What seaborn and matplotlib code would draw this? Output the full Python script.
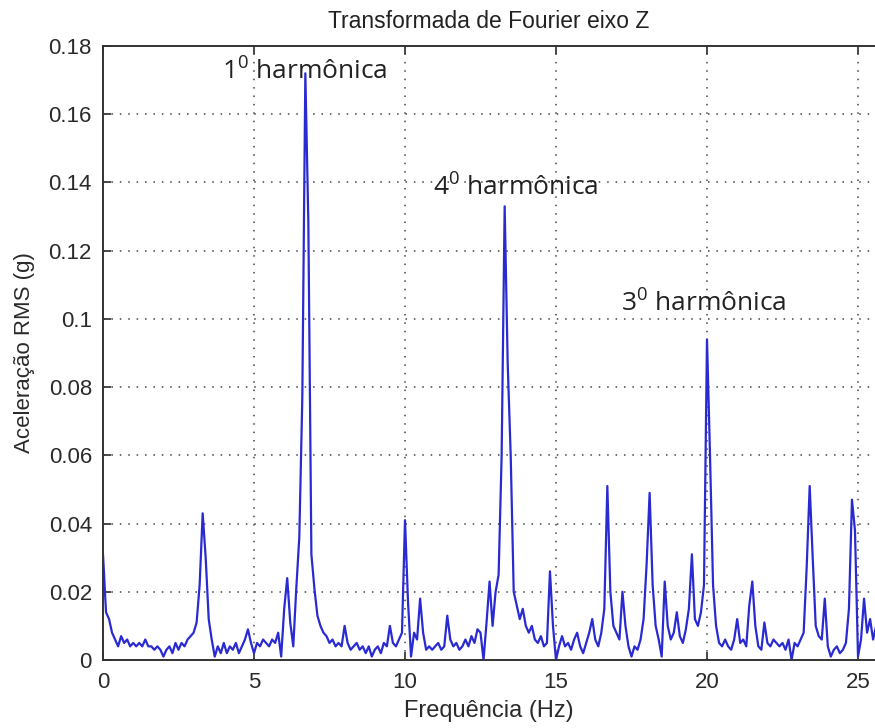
import numpy as np
import pandas as pd
import matplotlib
matplotlib.use("Agg")
import matplotlib.pyplot as plt
import seaborn as sns

# ---- data ----
freq_step = 0.1
amplitude = [
    0.031, 0.014, 0.012, 0.008, 0.006, 0.004, 0.007, 0.005, 0.006, 0.004,   # 0.0 - 0.9
    0.005, 0.004, 0.005, 0.004, 0.006, 0.004, 0.004, 0.003, 0.004, 0.003,   # 1.0 - 1.9
    0.001, 0.003, 0.004, 0.002, 0.005, 0.003, 0.005, 0.004, 0.006, 0.007,   # 2.0 - 2.9
    0.008, 0.011, 0.022, 0.043, 0.030, 0.012, 0.006, 0.001, 0.004, 0.002,   # 3.0 - 3.9
    0.005, 0.002, 0.004, 0.003, 0.005, 0.002, 0.004, 0.006, 0.009, 0.005,   # 4.0 - 4.9
    0.002, 0.005, 0.004, 0.006, 0.005, 0.004, 0.006, 0.005, 0.008, 0.001,   # 5.0 - 5.9
    0.015, 0.024, 0.011, 0.004, 0.021, 0.036, 0.077, 0.172, 0.128, 0.031,   # 6.0 - 6.9
    0.021, 0.013, 0.010, 0.008, 0.007, 0.005, 0.006, 0.004, 0.005, 0.004,   # 7.0 - 7.9
    0.010, 0.005, 0.003, 0.004, 0.005, 0.003, 0.004, 0.002, 0.004, 0.001,   # 8.0 - 8.9
    0.003, 0.004, 0.002, 0.005, 0.004, 0.010, 0.005, 0.004, 0.006, 0.008,   # 9.0 - 9.9
    0.041, 0.017, 0.001, 0.008, 0.006, 0.018, 0.008, 0.003, 0.004, 0.003,   # 10.0 - 10.9
    0.004, 0.005, 0.003, 0.004, 0.013, 0.006, 0.004, 0.005, 0.003, 0.004,   # 11.0 - 11.9
    0.006, 0.004, 0.007, 0.005, 0.009, 0.008, 0.000, 0.011, 0.023, 0.010,   # 12.0 - 12.9
    0.020, 0.025, 0.060, 0.133, 0.087, 0.060, 0.020, 0.016, 0.012, 0.015,   # 13.0 - 13.9
    0.010, 0.008, 0.010, 0.006, 0.005, 0.007, 0.004, 0.005, 0.026, 0.010,   # 14.0 - 14.9
    0.000, 0.004, 0.007, 0.004, 0.005, 0.003, 0.006, 0.008, 0.004, 0.002,   # 15.0 - 15.9
    0.005, 0.008, 0.012, 0.006, 0.004, 0.008, 0.015, 0.051, 0.020, 0.010,   # 16.0 - 16.9
    0.008, 0.006, 0.020, 0.010, 0.004, 0.001, 0.004, 0.003, 0.006, 0.012,   # 17.0 - 17.9
    0.028, 0.049, 0.022, 0.010, 0.006, 0.001, 0.023, 0.010, 0.006, 0.008,   # 18.0 - 18.9
    0.014, 0.007, 0.005, 0.009, 0.015, 0.031, 0.012, 0.010, 0.014, 0.022,   # 19.0 - 19.9
    0.094, 0.060, 0.022, 0.010, 0.005, 0.004, 0.006, 0.004, 0.003, 0.006,   # 20.0 - 20.9
    0.012, 0.005, 0.006, 0.004, 0.016, 0.023, 0.010, 0.004, 0.003, 0.011,   # 21.0 - 21.9
    0.005, 0.004, 0.006, 0.005, 0.004, 0.005, 0.003, 0.006, 0.000, 0.005,   # 22.0 - 22.9
    0.004, 0.006, 0.008, 0.027, 0.051, 0.030, 0.010, 0.007, 0.006, 0.018,   # 23.0 - 23.9
    0.004, 0.001, 0.003, 0.004, 0.002, 0.003, 0.005, 0.015, 0.047, 0.038,   # 24.0 - 24.9
    0.001, 0.006, 0.018, 0.008, 0.012, 0.006, 0.010,                       # 25.0 - 25.6
]
freq = np.round(np.arange(len(amplitude)) * freq_step, 2)

x_ticks = [0, 5, 10, 15, 20, 25]
x_tick_labels = ["0", "5", "10", "15", "20", "25"]
y_ticks = [0, 0.02, 0.04, 0.06, 0.08, 0.1, 0.12, 0.14, 0.16, 0.18]
y_tick_labels = ["0", "0.02", "0.04", "0.06", "0.08", "0.1", "0.12", "0.14", "0.16", "0.18"]

annotations = [
    ("1$^{0}$ harmônica", 3.94, 0.1725),
    ("4$^{0}$ harmônica", 10.93, 0.1385),
    ("3$^{0}$ harmônica", 17.15, 0.1045),
]

title = "Transformada de Fourier eixo Z"
xlabel = "Frequência (Hz)"
ylabel = "Aceleração RMS (g)"

df = pd.DataFrame({"freq": freq, "amp": amplitude})

# ---- style ----
sns.set_style("white")
plt.rcParams["font.family"] = ["Liberation Sans", "DejaVu Sans"]
plt.rcParams["mathtext.fontset"] = "custom"
plt.rcParams["mathtext.rm"] = "Open Sans"
plt.rcParams["mathtext.it"] = "Open Sans"
plt.rcParams["mathtext.bf"] = "Open Sans"

fig = plt.figure(figsize=(8.75, 7.28), dpi=100)
fig.patch.set_facecolor("white")
ax = fig.add_axes([103 / 875, 68 / 728, 772 / 875, 614 / 728])

sns.lineplot(data=df, x="freq", y="amp", ax=ax, estimator=None, sort=False,
             color="#2a2ad2", linewidth=1.6)

ax.set_xlim(0, 772 / 30.2)
ax.set_ylim(0, 0.18)
ax.set_xticks(x_ticks)
ax.set_xticklabels(x_tick_labels)
ax.set_yticks(y_ticks)
ax.set_yticklabels(y_tick_labels)

ax.grid(True, linestyle=(0, (1, 4.5)), color="#444444", linewidth=1.1)
ax.set_axisbelow(True)

for side in ["left", "bottom", "top"]:
    ax.spines[side].set_visible(True)
    ax.spines[side].set_color("#333333")
    ax.spines[side].set_linewidth(1.4)
ax.spines["right"].set_visible(False)

ax.tick_params(axis="both", which="major", direction="in", length=6, width=1.2,
               colors="#2a2a2a", labelsize=16, top=True, right=False,
               bottom=True, left=True)
ax.tick_params(axis="x", pad=9)
ax.tick_params(axis="y", pad=8)

ax.set_title(title, fontsize=16.5, color="#222222", pad=13)
ax.set_xlabel(xlabel, fontsize=17, color="#2a2a2a", labelpad=5)
ax.set_ylabel(ylabel, fontsize=16, color="#2a2a2a", labelpad=10)

for text, xv, yv in annotations:
    ax.text(xv, yv, text, fontsize=19, family=["Open Sans", "DejaVu Sans"],
            color="#222222", ha="left", va="center")

fig.savefig("out.png", dpi=100, facecolor="white")
